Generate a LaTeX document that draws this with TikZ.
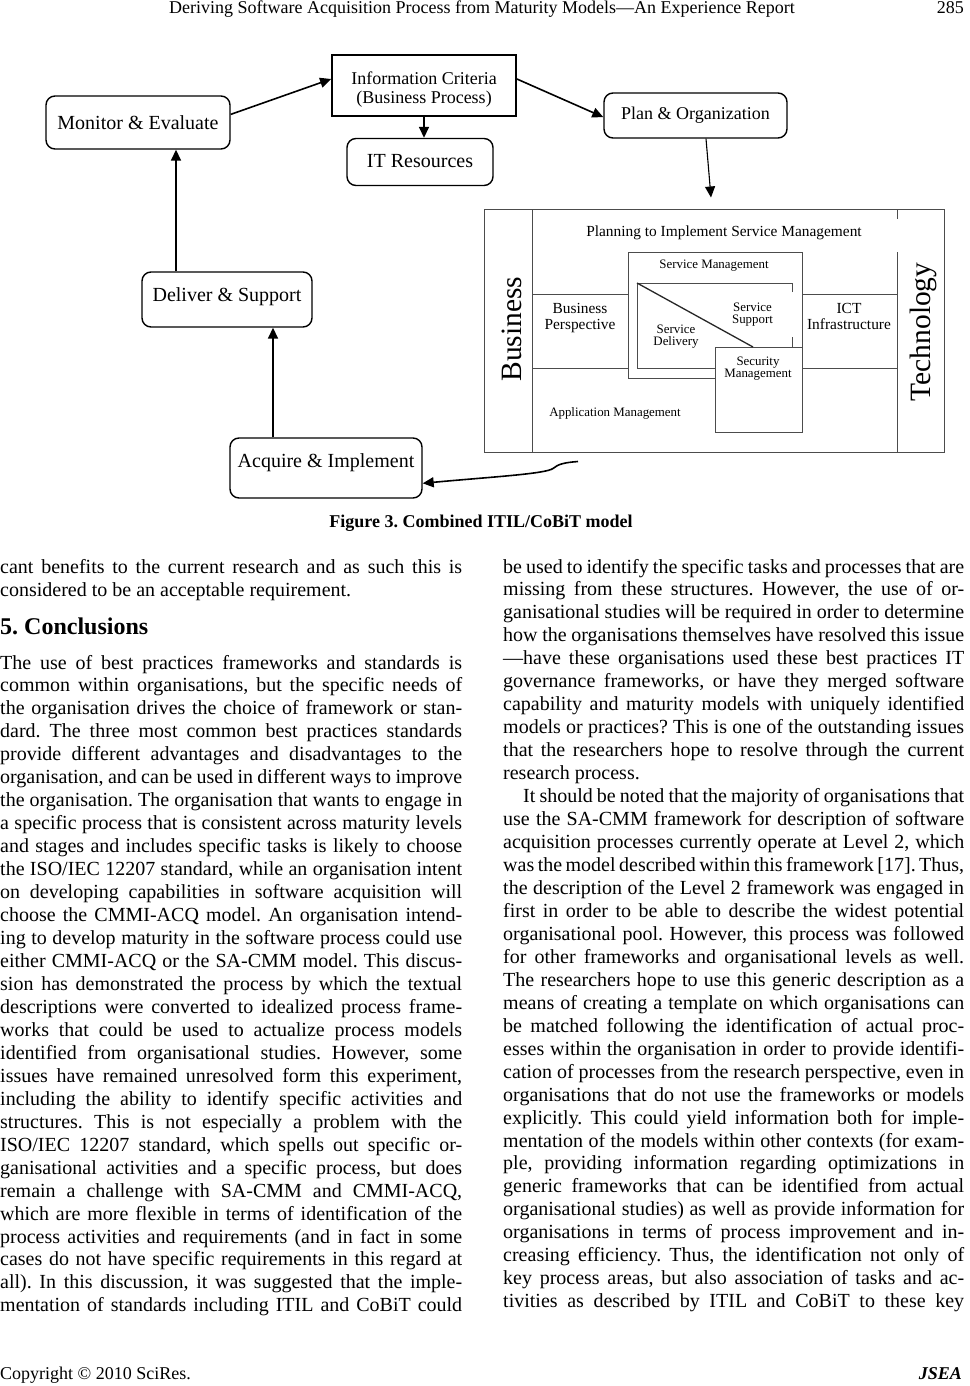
\documentclass[tikz,border=0pt]{standalone}
\usepackage{fontspec}
\setmainfont{Liberation Serif}
\usetikzlibrary{arrows.meta,calc}
\frenchspacing
\newcounter{ln}
\newcommand\jline[4]{\stepcounter{ln}\node[txt] (ln\theln) at (#1,{#2}) {\makebox[#3pt][s]{#4}};}
\newcommand\eline[3]{\stepcounter{ln}\node[txt] (ln\theln) at (#1,{#2}) {#3};}
\newcommand\LJ[2]{\jline{0}{669+#1*22.96}{462}{#2}}
\newcommand\RJ[2]{\jline{503}{573+#1*22.96}{461}{#2}}
\begin{document}
\frenchspacing
\begin{tikzpicture}[x=1pt,y=-1pt,
 txt/.style={anchor=base west, inner sep=0pt, font=\fontsize{20}{23}\selectfont},
 rbox/.style={draw, line width=1.4pt, rounded corners=9pt, inner sep=0pt, font=\fontsize{20}{22}\selectfont},
 arr/.style={-{Triangle[length=11pt,width=10pt]}, line width=1.6pt},
 itl/.style={draw=black!70, line width=1pt},
 lbl/.style={inner sep=0pt, text=black},
 sm/.style={font=\fontsize{12.9}{12.5}\selectfont},
 md/.style={font=\fontsize{15.4}{16}\selectfont},
]
\fill[white] (0,0) rectangle (969,1386);
\useasboundingbox (0,0) rectangle (969,1386);

% header
\node[anchor=base, inner sep=0pt, font=\fontsize{18}{20}\selectfont] (hdr) at (482,14) {Deriving Software Acquisition Process from Maturity Models—An Experience Report};
\node[anchor=base east, inner sep=0pt, font=\fontsize{18}{20}\selectfont] (pg) at (964,14) {285};

% CoBiT boxes
\node[rbox, minimum width=184pt, minimum height=53pt, text height=16pt, text depth=2pt] (mon) at (138,122.5) {Monitor \& Evaluate};
\node[draw, line width=1.8pt, minimum width=184pt, minimum height=61pt, inner sep=0pt] (info) at (424,85.5) {};
\node[inner sep=0pt, align=center, font=\fontsize{18}{19}\selectfont] (infotxt) at (424,89.5) {Information Criteria\\(Business Process)};
\node[rbox, minimum width=146pt, minimum height=47pt, text height=15pt, text depth=5pt] (itres) at (420,162) {IT Resources};
\node[rbox, minimum width=183pt, minimum height=45pt, text height=13.8pt, text depth=6.2pt, font=\fontsize{18}{20}\selectfont] (plan) at (695.5,115.5) {Plan \& Organization};
\node[rbox, minimum width=170pt, minimum height=55pt, text height=12.2pt, text depth=7.8pt] (del) at (227,299.5) {Deliver \& Support};
\node[rbox, minimum width=192pt, minimum height=60pt, text height=9.5pt, text depth=10.5pt] (acq) at (326,468) {Acquire \& Implement};

% ITIL figure
\node[itl, minimum width=460pt, minimum height=243pt, inner sep=0pt] (itil) at (714,330.5) {};
\draw[itl] (532,209) -- (532,452);
\draw[itl] (897,209) -- (897,219) (897,252) -- (897,452);
\draw[itl] (532,294) -- (628,294) (802,294) -- (897,294);
\draw[itl] (532,368) -- (628,368) (802,368) -- (897,368);
\draw[itl] (715,378) -- (628,378) -- (628,252) -- (802,252) -- (802,347);
\draw[itl] (715,347) rectangle (802,432);
\draw[itl] (792,292) -- (792,283) -- (637,283) -- (637,368) -- (715,368);
\draw[itl] (792,337) -- (792,347);
\draw[black!85, line width=1.3pt] (637,283) -- (753,347);
\node[lbl, md, anchor=base] (pism) at (724,236.5) {Planning to Implement Service Management};
\node[lbl, sm, anchor=base] (smt) at (714,268) {Service Management};
\node[lbl, md, align=center] (bp) at (580,318) {Business\\Perspective};
\node[lbl, sm, align=center] (ss) at (752.5,314.5) {Service\\Support};
\node[lbl, sm, align=center] (sd) at (676,336.5) {Service\\Delivery};
\node[lbl, md, align=center] (ict) at (849,316) {ICT\\Infrastructure};
\node[lbl, sm, align=center, font=\fontsize{12.9}{11.8}\selectfont] (secm) at (758,368.5) {Security\\Management};
\node[lbl, sm, anchor=base] (am) at (615,416) {Application Management};
\node[lbl, rotate=90, font=\fontsize{29.5}{30}\selectfont] (bus) at (512,329) {Business};
\node[lbl, rotate=90, font=\fontsize{29.5}{30}\selectfont] (tech) at (923,332) {Technology};

% connectors
\draw[arr] (mon.5) -- (info.176);
\draw[arr] (info.4) -- (plan.181);
\draw[arr] (info.south) -- (info.south |- itres.north);
\coordinate (pend) at (711,197.5);
\draw[arr, line width=1.1pt] ($(plan.south)+(10.5,0)$) -- (pend);
\coordinate (xa) at (176,0);
\draw[arr] (del.north -| xa) -- (mon.south -| xa);
\coordinate (xb) at (273,0);
\draw[arr] (acq.north -| xb) -- (del.south -| xb);
\coordinate (cs) at (578,461.5);
\draw[arr] (cs) .. controls (565,462.5) and (558,464) .. (553,468.5) .. controls (545,474) and (490,477) .. (acq.-9);

% caption
\node[anchor=base, inner sep=0pt, font=\bfseries\fontsize{18}{20}\selectfont] (cap) at (481,527) {Figure 3. Combined ITIL/CoBiT model};

% left column
\jline{0}{573}{462}{cant benefits to the current research and as such this is}
\eline{0}{596}{considered to be an acceptable requirement.}
\node[txt, font=\bfseries\fontsize{24}{26}\selectfont] (h5) at (0,634) {5. Conclusions};
\LJ{0}{The use of best practices frameworks and standards is}
\LJ{1}{common within organisations, but the specific needs of}
\LJ{2}{the organisation drives the choice of framework or stan-}
\LJ{3}{dard. The three most common best practices standards}
\LJ{4}{provide different advantages and disadvantages to the}
\LJ{5}{organisation, and can be used in different ways to improve}
\LJ{6}{the organisation. The organisation that wants to engage in}
\LJ{7}{a specific process that is consistent across maturity levels}
\LJ{8}{and stages and includes specific tasks is likely to choose}
\LJ{9}{the ISO/IEC 12207 standard, while an organisation intent}
\LJ{10}{on developing capabilities in software acquisition will}
\LJ{11}{choose the CMMI-ACQ model. An organisation intend-}
\LJ{12}{ing to develop maturity in the software process could use}
\LJ{13}{either CMMI-ACQ or the SA-CMM model. This discus-}
\LJ{14}{sion has demonstrated the process by which the textual}
\LJ{15}{descriptions were converted to idealized process frame-}
\LJ{16}{works that could be used to actualize process models}
\LJ{17}{identified from organisational studies. However, some}
\LJ{18}{issues have remained unresolved form this experiment,}
\LJ{19}{including the ability to identify specific activities and}
\LJ{20}{structures. This is not especially a problem with the}
\LJ{21}{ISO/IEC 12207 standard, which spells out specific or-}
\LJ{22}{ganisational activities and a specific process, but does}
\LJ{23}{remain a challenge with SA-CMM and CMMI-ACQ,}
\LJ{24}{which are more flexible in terms of identification of the}
\LJ{25}{process activities and requirements (and in fact in some}
\LJ{26}{cases do not have specific requirements in this regard at}
\LJ{27}{all). In this discussion, it was suggested that the imple-}
\LJ{28}{mentation of standards including ITIL and CoBiT could}

% right column
\RJ{0}{be used to identify the specific tasks and processes that are}
\RJ{1}{missing from these structures. However, the use of or-}
\RJ{2}{ganisational studies will be required in order to determine}
\RJ{3}{how the organisations themselves have resolved this issue}
\RJ{4}{—have these organisations used these best practices IT}
\RJ{5}{governance frameworks, or have they merged software}
\RJ{6}{capability and maturity models with uniquely identified}
\RJ{7}{models or practices? This is one of the outstanding issues}
\RJ{8}{that the researchers hope to resolve through the current}
\eline{503}{573+9*22.96}{research process.}
\jline{523}{573+10*22.96}{441}{It should be noted that the majority of organisations that}
\RJ{11}{use the SA-CMM framework for description of software}
\RJ{12}{acquisition processes currently operate at Level 2, which}
\RJ{13}{was the model described within this framework [17]. Thus,}
\RJ{14}{the description of the Level 2 framework was engaged in}
\RJ{15}{first in order to be able to describe the widest potential}
\RJ{16}{organisational pool. However, this process was followed}
\RJ{17}{for other frameworks and organisational levels as well.}
\RJ{18}{The researchers hope to use this generic description as a}
\RJ{19}{means of creating a template on which organisations can}
\RJ{20}{be matched following the identification of actual proc-}
\RJ{21}{esses within the organisation in order to provide identifi-}
\RJ{22}{cation of processes from the research perspective, even in}
\RJ{23}{organisations that do not use the frameworks or models}
\RJ{24}{explicitly. This could yield information both for imple-}
\RJ{25}{mentation of the models within other contexts (for exam-}
\RJ{26}{ple, providing information regarding optimizations in}
\RJ{27}{generic frameworks that can be identified from actual}
\RJ{28}{organisational studies) as well as provide information for}
\RJ{29}{organisations in terms of process improvement and in-}
\RJ{30}{creasing efficiency. Thus, the identification not only of}
\RJ{31}{key process areas, but also association of tasks and ac-}
\RJ{32}{tivities as described by ITIL and CoBiT to these key}

% footer
\node[anchor=base west, inner sep=0pt, font=\fontsize{18}{20}\selectfont] (cpy) at (0,1379) {Copyright © 2010 SciRes.};
\node[anchor=base east, inner sep=0pt, font=\bfseries\itshape\fontsize{18}{20}\selectfont] (jsea) at (962,1379) {JSEA};
\end{tikzpicture}
\end{document}
